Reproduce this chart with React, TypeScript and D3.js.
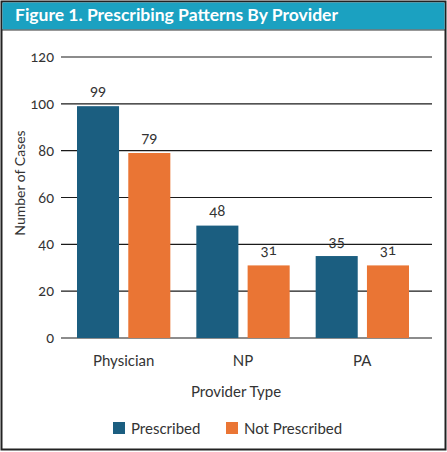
import { useRef, useEffect } from "react";
import * as d3 from "d3";

const categories = ["Physician", "NP", "PA"];
const seriesNames = ["Prescribed", "Not Prescribed"];
const prescribed = [99, 48, 35];
const notPrescribed = [79, 31, 31];
const yTicks = [0, 20, 40, 60, 80, 100, 120];

const W = 447;
const H = 452;
const colors = ["#1b5e80", "#ea7534"];
const font = "Lato, 'Open Sans', sans-serif";

export default function App() {
  const svgRef = useRef<SVGSVGElement>(null);

  useEffect(() => {
    if (!svgRef.current) return;
    const svg = d3.select(svgRef.current);
    svg.selectAll("*").remove();

    const rows = categories.map((c, i) => ({
      category: c,
      values: [prescribed[i], notPrescribed[i]],
    }));

    // frame + title bar
    svg.append("rect")
      .attr("x", 1.5).attr("y", 1.5)
      .attr("width", 444).attr("height", 448)
      .attr("fill", "#fff")
      .attr("stroke", "#222").attr("stroke-width", 2);
    svg.append("rect")
      .attr("x", 2.5).attr("y", 2.5)
      .attr("width", 442).attr("height", 27)
      .attr("fill", "#1ba1c1");
    svg.append("line")
      .attr("x1", 2).attr("x2", 445)
      .attr("y1", 30).attr("y2", 30)
      .attr("stroke", "#333").attr("stroke-width", 1.2);
    svg.append("text")
      .attr("x", 15).attr("y", 21)
      .attr("fill", "#fff")
      .attr("font-family", font)
      .attr("font-weight", 700)
      .attr("font-size", 17)
      .attr("textLength", 323)
      .attr("lengthAdjust", "spacingAndGlyphs")
      .text("Figure 1. Prescribing Patterns By Provider");

    const y = d3.scaleLinear().domain([0, 120]).range([338, 57]);
    const x0 = d3.scaleBand().domain(categories).range([64, 422]).padding(0);
    const x1 = d3
      .scaleBand<number>()
      .domain([0, 1])
      .range([13, x0.bandwidth() - 13])
      .paddingInner(0.18);

    // grid lines
    const g = svg.append("g");
    g.selectAll(".grid")
      .data(yTicks)
      .join("line")
      .attr("x1", 61).attr("x2", 432)
      .attr("y1", (d) => y(d)).attr("y2", (d) => y(d))
      .attr("stroke", "#1a1a1a").attr("stroke-width", 1.2);

    g.selectAll(".tick")
      .data(yTicks)
      .join("text")
      .attr("x", 54)
      .attr("y", (d) => y(d))
      .attr("dy", "0.35em")
      .attr("text-anchor", "end")
      .attr("font-family", font)
      .attr("font-size", 14.5)
      .attr("fill", "#333")
      .style("font-variant-numeric", "oldstyle-nums")
      .text((d) => d);

    // bars
    const groups = g.selectAll(".grp")
      .data(rows)
      .join("g")
      .attr("transform", (d) => `translate(${x0(d.category)},0)`);

    groups.selectAll("rect")
      .data((d) => d.values)
      .join("rect")
      .attr("x", (_, i) => x1(i) ?? 0)
      .attr("y", (d) => y(d))
      .attr("width", x1.bandwidth())
      .attr("height", (d) => y(0) - y(d))
      .attr("fill", (_, i) => colors[i]);

    groups.selectAll(".lbl")
      .data((d) => d.values)
      .join("text")
      .attr("x", (_, i) => (x1(i) ?? 0) + x1.bandwidth() / 2)
      .attr("y", (d) => y(d) - 10)
      .attr("text-anchor", "middle")
      .attr("font-family", font)
      .attr("font-size", 15)
      .attr("fill", "#333")
      .style("font-variant-numeric", "oldstyle-nums")
      .text((d) => d);

    // category labels
    g.selectAll(".cat")
      .data(categories)
      .join("text")
      .attr("x", (d) => (x0(d) ?? 0) + x0.bandwidth() / 2)
      .attr("y", 366)
      .attr("text-anchor", "middle")
      .attr("font-family", font)
      .attr("font-size", 15)
      .attr("fill", "#333")
      .text((d) => d);

    // axis titles
    svg.append("text")
      .attr("x", 236).attr("y", 397)
      .attr("text-anchor", "middle")
      .attr("font-family", font)
      .attr("font-size", 15)
      .attr("fill", "#333")
      .text("Provider Type");
    svg.append("text")
      .attr("transform", "translate(25,183) rotate(-90)")
      .attr("text-anchor", "middle")
      .attr("font-family", font)
      .attr("font-size", 14)
      .attr("fill", "#333")
      .text("Number of Cases");

    // legend
    const legendX = [113, 226];
    const leg = svg.selectAll(".leg")
      .data(seriesNames)
      .join("g")
      .attr("transform", (_, i) => `translate(${legendX[i]},422)`);
    leg.append("rect")
      .attr("width", 12).attr("height", 12)
      .attr("fill", (_, i) => colors[i]);
    leg.append("text")
      .attr("x", 18).attr("y", 12)
      .attr("font-family", font)
      .attr("font-size", 15)
      .attr("fill", "#333")
      .text((d) => d);
  }, []);

  return (
    <svg
      ref={svgRef}
      width={W}
      height={H}
      style={{ position: "absolute", left: 0, top: 0 }}
    />
  );
}
